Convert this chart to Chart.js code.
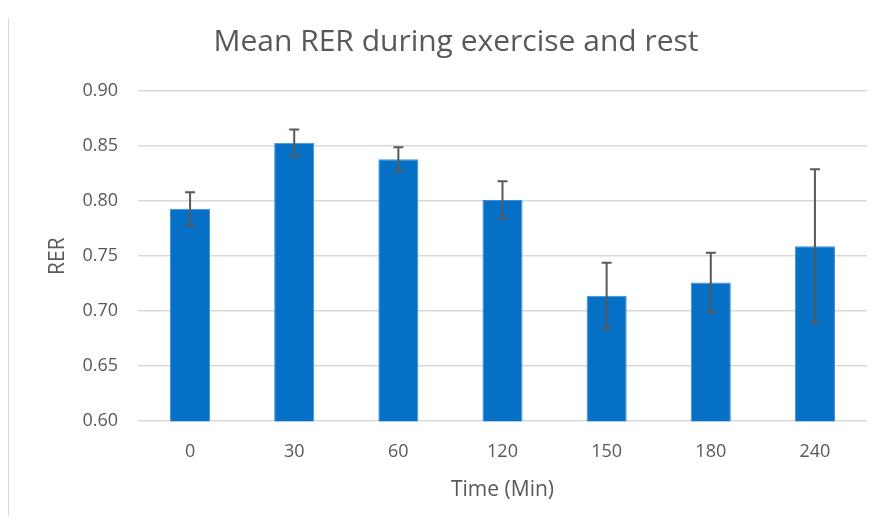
<!DOCTYPE html>
<html>
<head>
<meta charset="utf-8">
<script src="https://cdn.jsdelivr.net/npm/chart.js@4.4.0/dist/chart.umd.min.js"></script>
<style>
  html, body { margin: 0; padding: 0; background: #fff; }
  #wrap { position: relative; width: 880px; height: 522px; }
  #edge { position: absolute; left: 8px; top: 18px; width: 1px; height: 498px; background: #d9d9d9; }
</style>
</head>
<body>
<div id="wrap">
  <canvas id="rerChart" width="880" height="522"></canvas>
  <div id="edge"></div>
</div>
<script>
const timeLabels = ['0', '30', '60', '120', '150', '180', '240'];
const rerMean = [0.793, 0.853, 0.838, 0.801, 0.714, 0.726, 0.759];
const rerError = [0.015, 0.012, 0.011, 0.017, 0.030, 0.027, 0.070];
const yTicks = [0.60, 0.65, 0.70, 0.75, 0.80, 0.85, 0.90];

const textColor = '#595959';
const fontFamily = '"Open Sans", "Noto Sans", sans-serif';

// error bars drawn on top of the bars, using the y scale
const errorBars = {
  id: 'errorBars',
  afterDatasetsDraw(chart) {
    const ctx = chart.ctx;
    const y = chart.scales.y;
    const meta = chart.getDatasetMeta(0);
    ctx.save();
    ctx.strokeStyle = '#595959';
    ctx.lineWidth = 2;
    meta.data.forEach((bar, i) => {
      const x = bar.x;
      const top = y.getPixelForValue(rerMean[i] + rerError[i]);
      const bottom = y.getPixelForValue(rerMean[i] - rerError[i]);
      ctx.beginPath();
      ctx.moveTo(x, top); ctx.lineTo(x, bottom);
      ctx.moveTo(x - 5, top); ctx.lineTo(x + 5, top);
      ctx.moveTo(x - 5, bottom); ctx.lineTo(x + 5, bottom);
      ctx.stroke();
    });
    ctx.restore();
  }
};

new Chart(document.getElementById('rerChart').getContext('2d'), {
  type: 'bar',
  data: {
    labels: timeLabels,
    datasets: [{
      label: 'RER',
      data: rerMean,
      backgroundColor: '#0670c6',
      borderColor: '#3d8fd6',
      borderWidth: 1,
      categoryPercentage: 1,
      barPercentage: 0.385
    }]
  },
  options: {
    responsive: false,
    animation: false,
    layout: { padding: { top: 0, right: 13, bottom: 19, left: 45 } },
    plugins: {
      legend: { display: false },
      tooltip: { enabled: false },
      title: {
        display: true,
        text: 'Mean RER during exercise and rest',
        color: textColor,
        font: { family: fontFamily, size: 30, weight: 'normal' },
        padding: { top: 24, bottom: 31 }
      }
    },
    scales: {
      x: {
        grid: { display: false },
        border: { display: false },
        ticks: { color: textColor, font: { family: fontFamily, size: 18 }, padding: 12 },
        title: {
          display: true,
          text: 'Time (Min)',
          color: textColor,
          font: { family: fontFamily, size: 21 },
          padding: { top: 3, bottom: 0 }
        }
      },
      y: {
        min: 0.60,
        max: 0.90,
        afterBuildTicks(scale) { scale.ticks = yTicks.map(v => ({ value: v })); },
        grid: { color: '#d9d9d9', lineWidth: 1.5, drawTicks: false },
        border: { display: false },
        ticks: {
          color: textColor,
          font: { family: fontFamily, size: 18 },
          padding: 20,
          callback: v => v.toFixed(2)
        },
        title: {
          display: true,
          text: 'RER',
          color: textColor,
          font: { family: fontFamily, size: 21 },
          padding: { top: 0, bottom: 8 }
        },
        afterFit(scale) { scale.width = 93; }
      }
    }
  },
  plugins: [errorBars]
});
</script>
</body>
</html>
